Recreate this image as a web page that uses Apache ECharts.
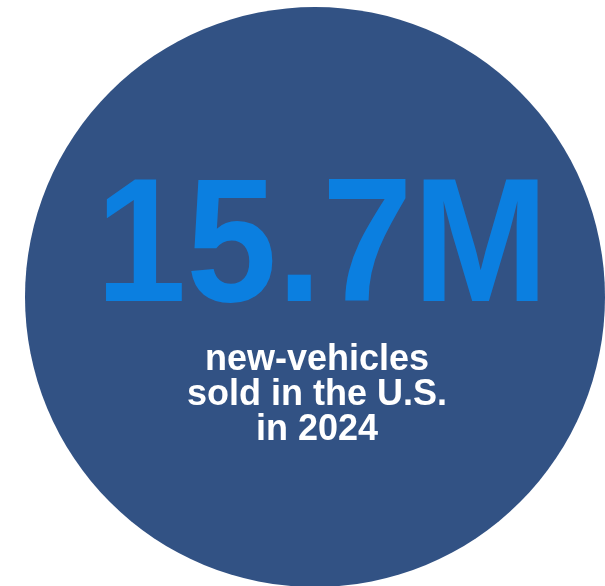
<!DOCTYPE html>
<html>
<head>
<meta charset="utf-8">
<script src="https://cdn.jsdelivr.net/npm/echarts@6/dist/echarts.min.js"></script>
<style>
  html, body { margin: 0; padding: 0; background: #ffffff; }
  #chart { width: 605px; height: 586px; }
</style>
</head>
<body>
<div id="chart"></div>
<script>
// Headline figure and caption
const headlineValue = [15.7];
const headlineUnit = ['M'];
const captionLines = ['new-vehicles', 'sold in the U.S.', 'in 2024'];

const discColor = '#325284';
const figureColor = '#0B7FE0';

const chart = echarts.init(document.getElementById('chart'), null, { renderer: 'canvas' });

const captionBaseY = 360;
const captionStep = 35;

chart.setOption({
  animation: false,
  backgroundColor: '#ffffff',
  series: [{
    type: 'pie',
    center: [315, 297],
    radius: [0, 290],
    silent: true,
    z: 1,
    label: { show: false },
    labelLine: { show: false },
    itemStyle: { color: discColor },
    data: headlineValue.map(v => ({ value: v, name: 'new vehicles sold' }))
  }],
  graphic: {
    elements: [
      {
        type: 'text',
        x: 322,
        y: 252,
        z: 100,
        scaleX: 0.92,
        style: {
          text: headlineValue[0].toFixed(1) + headlineUnit[0],
          fontFamily: 'Liberation Sans, Arial, sans-serif',
          fontWeight: 'bold',
          fontSize: 177,
          fill: figureColor,
          align: 'center',
          verticalAlign: 'middle'
        }
      }
    ].concat(captionLines.map((line, i) => ({
      type: 'text',
      x: 317,
      y: captionBaseY + i * captionStep,
      z: 100,
      style: {
        text: line,
        fontFamily: 'Liberation Sans, Arial, sans-serif',
        fontWeight: 'bold',
        fontSize: 36,
        fill: '#ffffff',
        align: 'center',
        verticalAlign: 'middle'
      }
    })))
  }
});
</script>
</body>
</html>
